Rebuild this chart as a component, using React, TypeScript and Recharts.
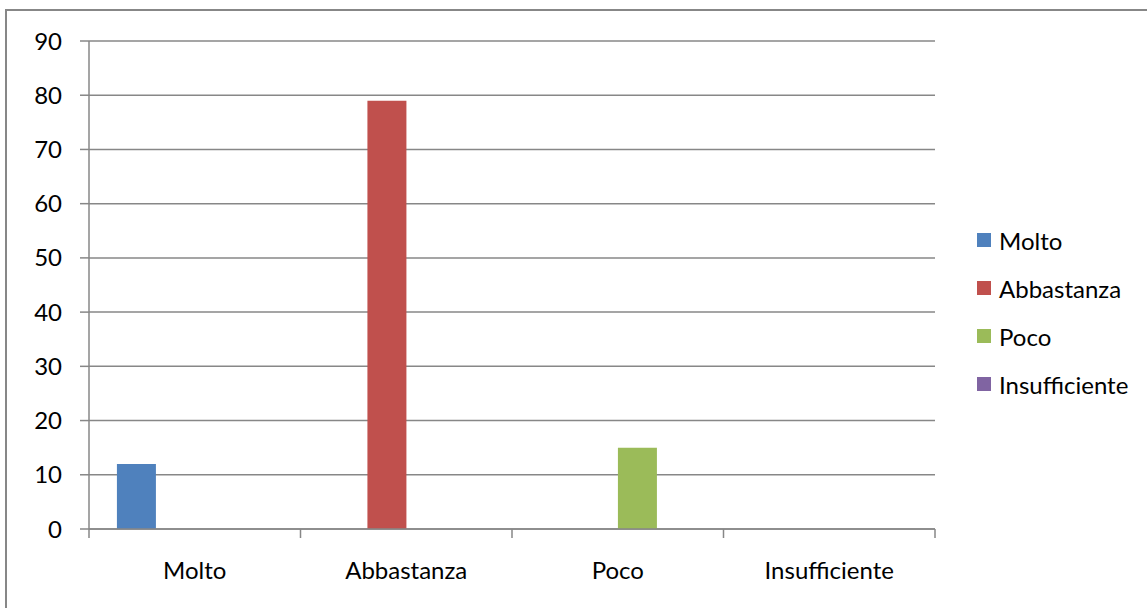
import { Bar, BarChart, CartesianGrid, Legend, XAxis, YAxis } from "recharts"

const categories = ["Molto", "Abbastanza", "Poco", "Insufficiente"]
const seriesNames = ["Molto", "Abbastanza", "Poco", "Insufficiente"]
const seriesColors = ["#4F81BD", "#C0504D", "#9BBB59", "#8064A2"]
const molto = [12, 0, 0, 0]
const abbastanza = [0, 79, 0, 0]
const poco = [0, 0, 15, 0]
const insufficiente = [0, 0, 0, 0]
const yTicks = [0, 10, 20, 30, 40, 50, 60, 70, 80, 90]

const seriesValues = [molto, abbastanza, poco, insufficiente]

const chartData = categories.map((name, i) => {
  const row: Record<string, string | number> = { name }
  seriesNames.forEach((s, j) => {
    row[s] = seriesValues[j][i]
  })
  return row
})

const FONT = "Lato, 'Open Sans', sans-serif"
const GRAY = "#878787"

function XTick(props: any) {
  const { x, y, payload, index } = props
  const half = payload?.offset ?? 105.75
  const last = index === categories.length - 1
  return (
    <g>
      <line x1={x - half} y1={y} x2={x - half} y2={y + 9} stroke={GRAY} strokeWidth={1.5} />
      {last && (
        <line x1={x + half} y1={y} x2={x + half} y2={y + 9} stroke={GRAY} strokeWidth={1.5} />
      )}
      <text x={x} y={y + 50} textAnchor="middle" fontFamily={FONT} fontSize={24} fill="#000">
        {payload.value}
      </text>
    </g>
  )
}

// keep the legend in series order (recharts sorts it by name otherwise)
function LegendBox() {
  return (
    <div style={{ fontFamily: FONT, fontSize: 24, color: "#000" }}>
      {seriesNames.map((s, j) => (
        <div key={s} style={{ display: "flex", alignItems: "center", height: 48, whiteSpace: "nowrap" }}>
          <span
            style={{ display: "inline-block", width: 14, height: 14, background: seriesColors[j], marginRight: 8 }}
          />
          <span>{s}</span>
        </div>
      ))}
    </div>
  )
}

export default function App() {
  return (
    <div
      style={{
        position: "absolute",
        left: 0,
        top: 0,
        width: 1147,
        height: 608,
        overflow: "hidden",
        background: "#fff",
      }}
    >
      <div
        style={{
          position: "absolute",
          left: 5,
          top: 9,
          width: 1200,
          height: 700,
          border: `2px solid ${GRAY}`,
        }}
      />
      <div style={{ position: "absolute", left: 0, top: 0 }}>
        <BarChart
          width={1147}
          height={608}
          data={chartData}
          margin={{ top: 41, right: 212, bottom: 29, left: 29 }}
          barGap={0}
          barCategoryGap="13.2%"
        >
          <CartesianGrid vertical={false} stroke={GRAY} strokeWidth={1.5} />
          <XAxis
            dataKey="name"
            height={50}
            axisLine={{ stroke: GRAY, strokeWidth: 1.5 }}
            tickLine={false}
            tickSize={0}
            tickMargin={0}
            tick={<XTick />}
            interval={0}
          />
          <YAxis
            width={60}
            domain={[0, 90]}
            ticks={yTicks}
            interval={0}
            axisLine={{ stroke: GRAY, strokeWidth: 1.5 }}
            tickLine={{ stroke: GRAY, strokeWidth: 1.5 }}
            tickSize={9}
            tickMargin={18}
            tick={{ fontFamily: FONT, fontSize: 24, fill: "#000" }}
          />
          <Legend
            layout="vertical"
            align="center"
            verticalAlign="middle"
            content={<LegendBox />}
            wrapperStyle={{ left: 977, top: 216, width: 170 }}
          />
          {seriesNames.map((s, j) => (
            <Bar key={s} dataKey={s} fill={seriesColors[j]} isAnimationActive={false} />
          ))}
        </BarChart>
      </div>
    </div>
  )
}
